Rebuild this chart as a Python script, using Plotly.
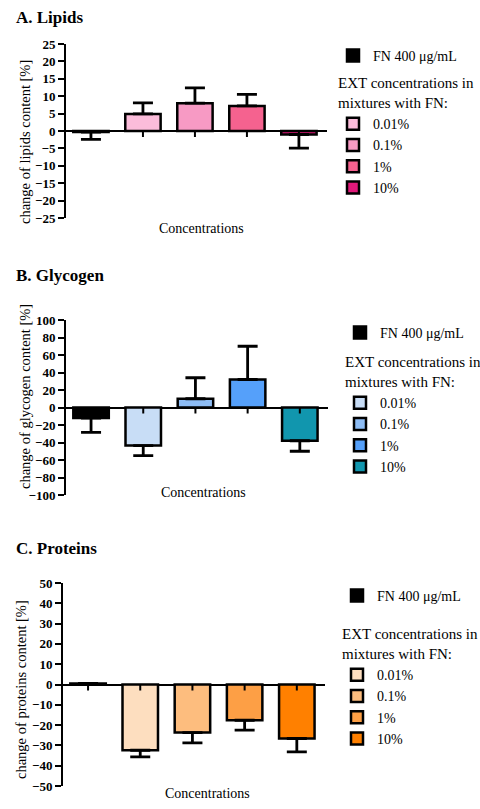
import plotly.graph_objects as go

categories = ["FN 400 μg/mL", "0.01%", "0.1%", "1%", "10%"]

lipids_mean = [-0.3, 4.9, 8.0, 7.2, -1.0]
lipids_err = [2.1, 3.2, 4.4, 3.3, 3.9]
lipids_colors = ["#000000", "#FBBCDA", "#F79AC4", "#F5628F", "#E0197A"]

glycogen_mean = [-12.0, -43.5, 10.0, 32.0, -38.0]
glycogen_err = [16.5, 11.5, 24.0, 38.0, 12.0]
glycogen_colors = ["#000000", "#C8DDF6", "#8DBCF4", "#55A0FA", "#1196AE"]

proteins_mean = [0.5, -32.4, -23.7, -17.6, -26.6]
proteins_err = [0.0, 3.3, 5.1, 4.9, 6.6]
proteins_colors = ["#000000", "#FDDEBF", "#FDBD7E", "#FD9F45", "#FF8000"]

panel_titles = ["A. Lipids", "B. Glycogen", "C. Proteins"]
y_titles = ["change of lipids content [%]", "change of glycogen content [%]",
            "change of proteins content [%]"]
y_ranges = [[-25, 25], [-100, 100], [-50, 50]]
y_dticks = [5, 20, 10]
group_title = "EXT concentrations in<br>mixtures with FN:"

SERIF = "Liberation Serif"
W, H = 480, 809

def px_x(v):
    return v / W

def px_y(v):
    return 1 - v / H

panels = [
    dict(mean=lipids_mean, err=lipids_err, colors=lipids_colors,
         xdom=[66, 327], ydom=[44, 218], title_y=18, ytitle_x=25, ytitle_y=142,
         conc_x=201, conc_y=228, legend_x=333, legend_y=40, gap=5),
    dict(mean=glycogen_mean, err=glycogen_err, colors=glycogen_colors,
         xdom=[66, 328], ydom=[320, 495], title_y=275, ytitle_x=25, ytitle_y=397,
         conc_x=203, conc_y=492, legend_x=340, legend_y=317, gap=7),
    dict(mean=proteins_mean, err=proteins_err, colors=proteins_colors,
         xdom=[63, 325], ydom=[583, 786], title_y=548, ytitle_x=21, ytitle_y=690,
         conc_x=207, conc_y=793, legend_x=337, legend_y=580, gap=16),
]

fig = go.Figure()
annotations = []
shapes = []

for p_i, p in enumerate(panels):
    n = p_i + 1
    xa = "x" if n == 1 else f"x{n}"
    ya = "y" if n == 1 else f"y{n}"
    lg = "legend" if n == 1 else f"legend{n}"
    for i, cat in enumerate(categories):
        m = p["mean"][i]
        e = p["err"][i]
        plus = e if m >= 0 else 0
        minus = e if m < 0 else 0
        is_ext = i > 0
        fig.add_trace(go.Bar(
            x=[i], y=[m], name=cat, width=0.68,
            marker=dict(color=p["colors"][i], line=dict(color="black", width=2.5)),
            error_y=dict(type="data", symmetric=False, array=[plus], arrayminus=[minus],
                         color="black", thickness=2.8, width=10),
            xaxis=xa, yaxis=ya, legend=lg,
            legendgroup=f"ext{n}" if is_ext else f"fn{n}",
            legendgrouptitle=dict(text=group_title, font=dict(family=SERIF, size=15, color="black")) if is_ext else None,
            showlegend=True,
        ))
        # category tick marks on the zero line
        shapes.append(dict(type="line", xref=xa, yref=ya, x0=i, x1=i,
                           ysizemode="pixel", yanchor=0, y0=0, y1=-6,
                           line=dict(color="black", width=2)))

    xkey = "xaxis" if n == 1 else f"xaxis{n}"
    ykey = "yaxis" if n == 1 else f"yaxis{n}"
    fig.update_layout(**{
        xkey: dict(domain=[px_x(p["xdom"][0]), px_x(p["xdom"][1])],
                   range=[-0.48, 4.54], visible=False, anchor=ya, fixedrange=True),
        ykey: dict(domain=[px_y(p["ydom"][1]), px_y(p["ydom"][0])],
                   range=y_ranges[p_i], dtick=y_dticks[p_i], tick0=0,
                   showline=True, linecolor="black", linewidth=2,
                   ticks="outside", ticklen=6, tickwidth=2, tickcolor="black",
                   tickfont=dict(family=SERIF, size=13, color="black", weight="bold"),
                   showgrid=False, zeroline=True, zerolinecolor="black", zerolinewidth=2,
                   anchor=xa, fixedrange=True, automargin=False),
        lg: dict(x=px_x(p["legend_x"]), y=px_y(p["legend_y"]), xanchor="left", yanchor="top",
                 traceorder="grouped", tracegroupgap=p["gap"],
                 font=dict(family=SERIF, size=14, color="black"),
                 bgcolor="rgba(0,0,0,0)", borderwidth=0),
    })

    annotations.append(dict(text=panel_titles[p_i], x=px_x(14), y=px_y(p["title_y"]),
                            xref="paper", yref="paper", xanchor="left", yanchor="middle",
                            showarrow=False,
                            font=dict(family=SERIF, size=17, color="black", weight="bold")))
    annotations.append(dict(text=y_titles[p_i], x=px_x(p["ytitle_x"]), y=px_y(p["ytitle_y"]),
                            xref="paper", yref="paper", xanchor="center", yanchor="middle",
                            textangle=-90, showarrow=False,
                            font=dict(family=SERIF, size=14.5, color="black")))
    annotations.append(dict(text="Concentrations", x=px_x(p["conc_x"]), y=px_y(p["conc_y"]),
                            xref="paper", yref="paper", xanchor="center", yanchor="middle",
                            showarrow=False,
                            font=dict(family=SERIF, size=14, color="black")))

fig.update_layout(
    width=W, height=H,
    margin=dict(l=0, r=0, t=0, b=0, autoexpand=False),
    paper_bgcolor="white", plot_bgcolor="white",
    barmode="overlay",
    annotations=annotations,
    shapes=shapes,
)

fig.write_html("out.html", config={"displayModeBar": False},
               post_script="document.body.style.margin='0';")
